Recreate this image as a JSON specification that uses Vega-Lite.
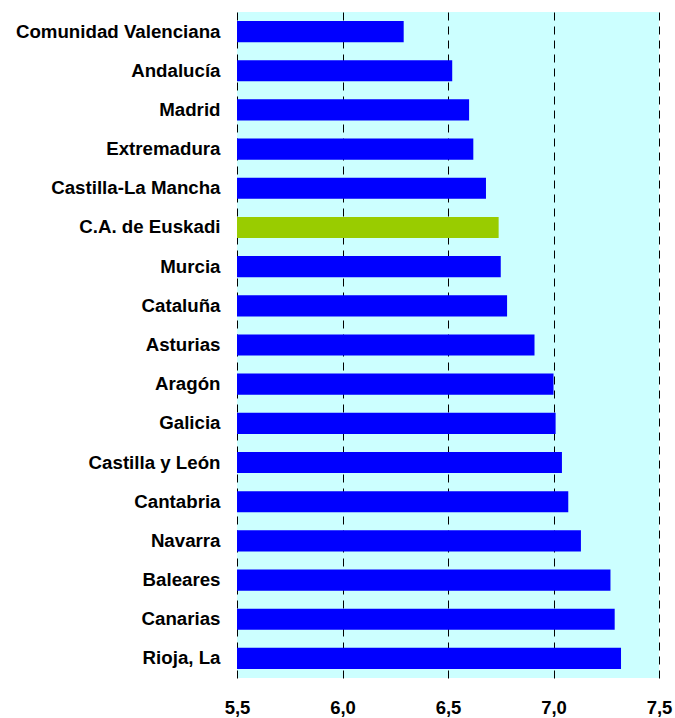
{
  "$schema": "https://vega.github.io/schema/vega-lite/v6.json",
  "autosize": "none",
  "width": 422,
  "height": 666,
  "padding": {"left": 237, "top": 12, "right": 16, "bottom": 40},
  "background": "white",
  "data": {
    "values": [
      {"region": "Comunidad Valenciana", "value": 6.29, "grupo": "otras"},
      {"region": "Andalucía", "value": 6.52, "grupo": "otras"},
      {"region": "Madrid", "value": 6.60, "grupo": "otras"},
      {"region": "Extremadura", "value": 6.62, "grupo": "otras"},
      {"region": "Castilla-La Mancha", "value": 6.68, "grupo": "otras"},
      {"region": "C.A. de Euskadi", "value": 6.74, "grupo": "euskadi"},
      {"region": "Murcia", "value": 6.75, "grupo": "otras"},
      {"region": "Cataluña", "value": 6.78, "grupo": "otras"},
      {"region": "Asturias", "value": 6.91, "grupo": "otras"},
      {"region": "Aragón", "value": 7.00, "grupo": "otras"},
      {"region": "Galicia", "value": 7.01, "grupo": "otras"},
      {"region": "Castilla y León", "value": 7.04, "grupo": "otras"},
      {"region": "Cantabria", "value": 7.07, "grupo": "otras"},
      {"region": "Navarra", "value": 7.13, "grupo": "otras"},
      {"region": "Baleares", "value": 7.27, "grupo": "otras"},
      {"region": "Canarias", "value": 7.29, "grupo": "otras"},
      {"region": "Rioja, La", "value": 7.32, "grupo": "otras"}
    ]
  },
  "mark": {"type": "bar", "clip": true},
  "encoding": {
    "y": {
      "field": "region",
      "type": "nominal",
      "sort": null,
      "scale": {"paddingInner": 0.46, "paddingOuter": 0.23},
      "axis": {
        "title": null,
        "domain": false,
        "ticks": false,
        "labelPadding": 17,
        "labelFont": "Liberation Sans",
        "labelFontWeight": "bold",
        "labelFontSize": 18.7,
        "labelColor": "black",
        "labelLimit": 400
      }
    },
    "x": {
      "field": "value",
      "type": "quantitative",
      "scale": {"domain": [5.5, 7.5], "zero": false, "nice": false},
      "axis": {
        "title": null,
        "values": [5.5, 6.0, 6.5, 7.0, 7.5],
        "labelExpr": "replace(format(datum.value, '.1f'), '.', ',')",
        "domain": false,
        "ticks": false,
        "grid": true,
        "gridColor": "black",
        "gridWidth": 1,
        "gridDash": [8, 6],
        "gridOpacity": 1,
        "labelPadding": 20,
        "labelFont": "Liberation Sans",
        "labelFontWeight": "bold",
        "labelFontSize": 18.5,
        "labelColor": "black",
        "labelFlush": false
      }
    },
    "x2": {"datum": 5.5},
    "color": {
      "field": "grupo",
      "type": "nominal",
      "scale": {"domain": ["otras", "euskadi"], "range": ["#0000FF", "#99CC00"]},
      "legend": null
    }
  },
  "config": {
    "view": {"fill": "#CCFFFF", "stroke": null}
  }
}
